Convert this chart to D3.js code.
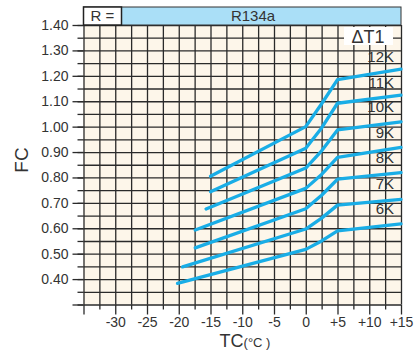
<!DOCTYPE html>
<meta charset="utf-8">
<style>
body { margin: 0; background: #fff; }
text { font-family: "Liberation Sans", Arial, sans-serif; fill: #333; }
.grid line { stroke: #2a2a2a; stroke-width: 1.3px; }
.grid path { display: none; }
.axis path { display: none; }
.axis line { stroke: #2a2a2a; stroke-width: 1.3px; }
.axis text { font-size: 14px; fill: #333; }
.curve { fill: none; stroke: #19ade6; stroke-width: 3.3px; stroke-linejoin: round; stroke-linecap: round; }
</style>
<body>
<script src="https://cdn.jsdelivr.net/npm/d3@7"></script>
<script>

// curve names (delta T1) and their points, TC in deg C vs FC
var curveNames = ["12K", "11K", "10K", "9K", "8K", "7K", "6K"];
var curveTC = [
  [-15, 0, 2.5, 5, 15],
  [-15, 0, 2.5, 5, 15],
  [-15.7, 0, 2.5, 5, 15],
  [-17.4, 0, 2.5, 5, 15],
  [-17.4, 0, 2.5, 5, 15],
  [-19.4, 0, 2.5, 5, 15],
  [-20.2, 0, 2.5, 5, 15]
];
var curveFC = [
  [0.805, 1.000, 1.090, 1.185, 1.226],
  [0.744, 0.915, 0.995, 1.092, 1.124],
  [0.676, 0.837, 0.905, 0.987, 1.019],
  [0.593, 0.757, 0.812, 0.879, 0.918],
  [0.523, 0.677, 0.730, 0.793, 0.819],
  [0.448, 0.597, 0.640, 0.691, 0.714],
  [0.383, 0.517, 0.550, 0.590, 0.617]
];
// where the curve names sit (FC value of the label centre)
var labelFC = [1.275, 1.175, 1.077, 0.978, 0.878, 0.777, 0.678];

var xTicks = [-30, -25, -20, -15, -10, -5, 0, 5, 10, 15];
var yTicks = [0.40, 0.50, 0.60, 0.70, 0.80, 0.90, 1.00, 1.10, 1.20, 1.30, 1.40];
var refrigerant = "R134a";

var width = 417, height = 351;
var pLeft = 83.5, pRight = 401, pTop = 25, pBottom = 304.5;

var x = d3.scaleLinear().domain([-35, 15]).range([pLeft, pRight]);
var y = d3.scaleLinear().domain([0.30, 1.40]).range([pBottom, pTop]);

var svg = d3.select("body").append("svg")
    .attr("width", width)
    .attr("height", height);

// plot background
svg.append("rect")
    .attr("x", pLeft).attr("y", pTop)
    .attr("width", pRight - pLeft).attr("height", pBottom - pTop)
    .attr("fill", "#fdf6ea");

// grid lines every 2.5 deg and every 0.05
var xGrid = d3.range(-35, 15.01, 2.5);
var yGrid = d3.range(0.30, 1.401, 0.05);

svg.append("g")
    .attr("class", "grid")
    .attr("transform", "translate(0," + pBottom + ")")
    .call(d3.axisBottom(x).tickValues(xGrid).tickSize(-(pBottom - pTop)).tickFormat(""));

svg.append("g")
    .attr("class", "grid")
    .attr("transform", "translate(" + pLeft + ",0)")
    .call(d3.axisLeft(y).tickValues(yGrid).tickSize(-(pRight - pLeft)).tickFormat(""));

// minor ticks outside
svg.append("g")
    .attr("class", "axis")
    .attr("transform", "translate(0," + pBottom + ")")
    .call(d3.axisBottom(x).tickValues(xGrid.filter(function(d) { return d % 5 != 0; })).tickSize(5).tickFormat(""));
svg.append("g")
    .attr("class", "axis")
    .attr("transform", "translate(" + pLeft + ",0)")
    .call(d3.axisLeft(y).tickValues(yGrid).tickSize(6).tickFormat(""));

// major ticks and labels
svg.append("g")
    .attr("class", "axis")
    .attr("transform", "translate(0," + pBottom + ")")
    .call(d3.axisBottom(x).tickValues([-35].concat(xTicks)).tickSize(10).tickPadding(3)
      .tickFormat(function(d) { return d == -35 ? "" : (d > 0 ? "+" + d : d); }));

svg.append("g")
    .attr("class", "axis")
    .attr("transform", "translate(" + pLeft + ",0)")
    .call(d3.axisLeft(y).tickValues([0.30].concat(yTicks)).tickSize(11).tickPadding(4)
      .tickFormat(function(d) { return d < 0.35 ? "" : d3.format(".2f")(d); }));

// curves
var line = d3.line()
    .x(function(d) { return x(d[0]); })
    .y(function(d) { return y(d[1]); });

curveNames.forEach(function(name, i) {
  var pts = curveTC[i].map(function(t, j) { return [t, curveFC[i][j]]; });
  svg.append("path")
      .attr("class", "curve")
      .attr("d", line(pts));
  svg.append("text")
      .attr("x", pRight - 7)
      .attr("y", y(labelFC[i]))
      .attr("dy", "0.36em")
      .attr("text-anchor", "end")
      .attr("font-size", 15)
      .text(name);
});

// header bar
svg.append("rect")
    .attr("x", pLeft).attr("y", 7)
    .attr("width", pRight - pLeft).attr("height", pTop - 7)
    .attr("fill", "#aadff7").attr("stroke", "#333").attr("stroke-width", 1);
svg.append("rect")
    .attr("x", pLeft).attr("y", 7)
    .attr("width", 38).attr("height", pTop - 7)
    .attr("fill", "#fff").attr("stroke", "#222").attr("stroke-width", 1.5);
svg.append("text")
    .attr("x", pLeft + 19).attr("y", 21)
    .attr("text-anchor", "middle").attr("font-size", 15)
    .text("R =");
svg.append("text")
    .attr("x", 253).attr("y", 21)
    .attr("text-anchor", "middle").attr("font-size", 15)
    .text(refrigerant);

// delta T1 box
svg.append("rect")
    .attr("x", 344).attr("y", 27)
    .attr("width", 49).attr("height", 18)
    .attr("fill", "#fff");
svg.append("text")
    .attr("x", 368).attr("y", 43)
    .attr("text-anchor", "middle").attr("font-size", 18)
    .text("\u0394T1");

// axis titles
var xt = svg.append("text")
    .attr("x", 245).attr("y", 347)
    .attr("text-anchor", "middle");
xt.append("tspan").attr("font-size", 18).text("TC");
xt.append("tspan").attr("font-size", 13).text("(\u00b0C )");

svg.append("text")
    .attr("transform", "translate(28,160) rotate(-90)")
    .attr("text-anchor", "middle")
    .attr("font-size", 19)
    .text("FC");

</script>
</body>
